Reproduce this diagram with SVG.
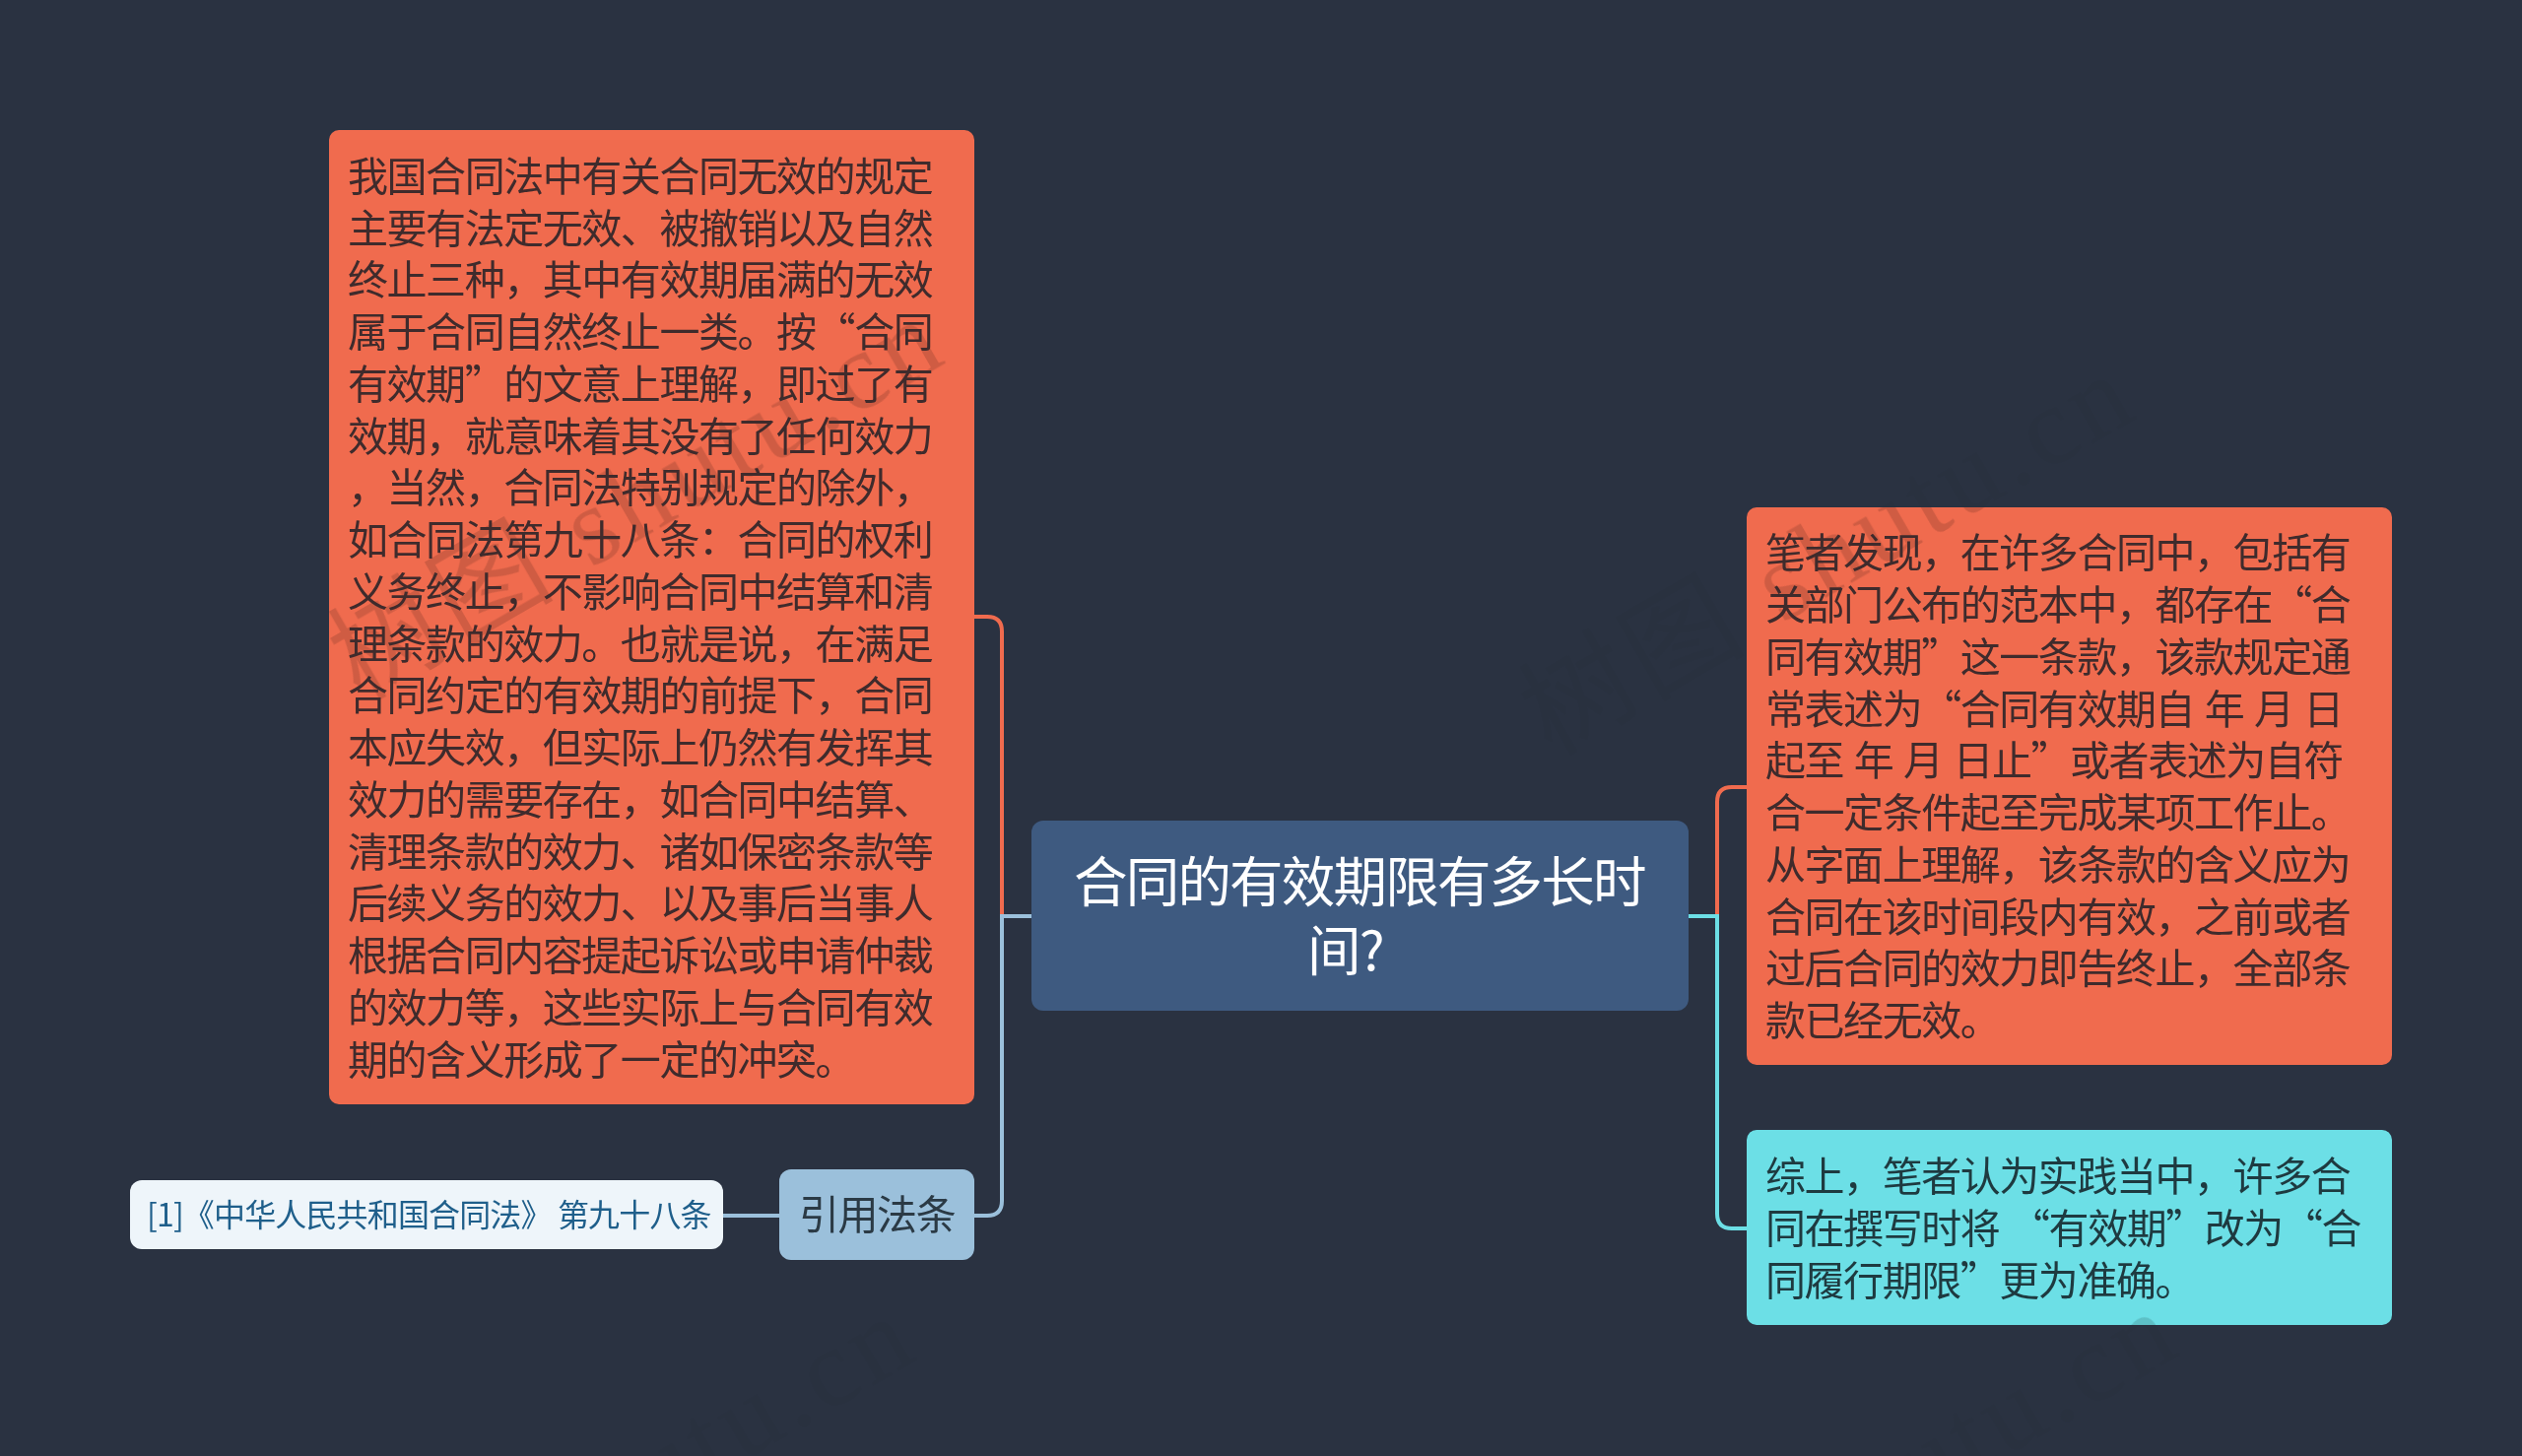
<svg xmlns="http://www.w3.org/2000/svg" width="2560" height="1478" viewBox="0 0 2560 1478">
<defs>
<clipPath id="boxes"><rect x="334" y="132" width="655" height="989" rx="10"/><rect x="1773" y="515" width="655" height="566" rx="10"/><rect x="1773" y="1147" width="655" height="198" rx="10"/></clipPath>
<g id="wmg">
<text class="wm" transform="translate(967 365) rotate(-30)">树图 shutu.cn</text>
<text class="wm" transform="translate(2176 421) rotate(-30)">树图 shutu.cn</text>
<text class="wm" transform="translate(938 1377) rotate(-30)">树图 shutu.cn</text>
<text class="wm" transform="translate(2220 1372) rotate(-30)">树图 shutu.cn</text>
</g>
</defs>
<style>
text{font-family:"Noto Sans CJK SC","Noto Sans",sans-serif}
.c{fill:none;stroke-width:4}
.o{fill:#f06b4e}
.t{font-size:41px;letter-spacing:-1.45px;word-spacing:3px;fill:#3f2b2c}
.wm{font-family:"Liberation Serif","Noto Sans CJK SC",serif;font-size:112px;letter-spacing:6px;fill:#000;text-anchor:end}
</style>
<rect width="2560" height="1478" fill="#2a3241"/>
<use href="#wmg" opacity=".02"/>
<g id="connectors">
<path class="c" stroke="#f06b4e" d="M989 626H1002Q1017 626 1017 641V930"/>
<path class="c" stroke="#9bc0db" d="M1047 930H1017V1219Q1017 1234 1002 1234H989"/>
<path class="c" stroke="#9bc0db" d="M791 1234H734"/>
<path class="c" stroke="#f06b4e" d="M1773 799H1758Q1743 799 1743 814V930"/>
<path class="c" stroke="#6cdfe6" d="M1714 930H1743V1232Q1743 1247 1758 1247H1773"/>
</g>
<g id="n1">
<rect class="o" x="334" y="132" width="655" height="989" rx="10"/>
</g>
<g id="n2">
<rect class="o" x="1773" y="515" width="655" height="566" rx="10"/>
</g>
<g id="n3">
<rect x="1773" y="1147" width="655" height="198" rx="10" fill="#6cdfe6"/>
</g>
<g clip-path="url(#boxes)"><use href="#wmg" opacity=".14"/></g>
<g id="n1-text" transform="translate(0 1.5)">
<text class="t"><tspan x="353" y="192">我国合同法中有关合同无效的规定</tspan><tspan x="353" y="245">主要有法定无效、被撤销以及自然</tspan><tspan x="353" y="297">终止三种，其中有效期届满的无效</tspan><tspan x="353" y="350">属于合同自然终止一类。按“合同</tspan><tspan x="353" y="403">有效期”的文意上理解，即过了有</tspan><tspan x="353" y="456">效期，就意味着其没有了任何效力</tspan><tspan x="353" y="508">，当然，合同法特别规定的除外，</tspan><tspan x="353" y="561">如合同法第九十八条：合同的权利</tspan><tspan x="353" y="614">义务终止，不影响合同中结算和清</tspan><tspan x="353" y="667">理条款的效力。也就是说，在满足</tspan><tspan x="353" y="719">合同约定的有效期的前提下，合同</tspan><tspan x="353" y="772">本应失效，但实际上仍然有发挥其</tspan><tspan x="353" y="825">效力的需要存在，如合同中结算、</tspan><tspan x="353" y="878">清理条款的效力、诸如保密条款等</tspan><tspan x="353" y="930">后续义务的效力、以及事后当事人</tspan><tspan x="353" y="983">根据合同内容提起诉讼或申请仲裁</tspan><tspan x="353" y="1036">的效力等，这些实际上与合同有效</tspan><tspan x="353" y="1089">期的含义形成了一定的冲突。</tspan></text>
</g>
<g id="root">
<rect x="1047" y="833" width="667" height="193" rx="12" fill="#3e5a80"/>
<text font-size="54.500" letter-spacing="-1.8" fill="#fff"><tspan x="1090" y="915">合同的有效期限有多长时</tspan><tspan x="1327" y="985">间?</tspan></text>
</g>
<g id="n2-text" transform="translate(0 1.5)">
<text class="t"><tspan x="1792" y="574">笔者发现，在许多合同中，包括有</tspan><tspan x="1792" y="627">关部门公布的范本中，都存在“合</tspan><tspan x="1792" y="680">同有效期”这一条款，该款规定通</tspan><tspan x="1792" y="733">常表述为“合同有效期自 年 月 日</tspan><tspan x="1792" y="785">起至 年 月 日止”或者表述为自符</tspan><tspan x="1792" y="838">合一定条件起至完成某项工作止。</tspan><tspan x="1792" y="891">从字面上理解，该条款的含义应为</tspan><tspan x="1792" y="944">合同在该时间段内有效，之前或者</tspan><tspan x="1792" y="996">过后合同的效力即告终止，全部条</tspan><tspan x="1792" y="1049">款已经无效。</tspan></text>
</g>
<g id="n3-text" transform="translate(0 1)">
<text class="t" style="fill:#1e3a40"><tspan x="1792" y="1208">综上，笔者认为实践当中，许多合</tspan><tspan x="1792" y="1261">同在撰写时将 “有效期”改为“合</tspan><tspan x="1792" y="1314">同履行期限”更为准确。</tspan></text>
</g>
<g id="n4">
<rect x="791" y="1187" width="198" height="92" rx="12" fill="#9bc0db"/>
<text class="t" style="fill:#2b3a45" x="811" y="1248">引用法条</text>
</g>
<g id="n5">
<rect x="132" y="1198" width="602" height="70" rx="12" fill="#eef5fa"/>
<text font-size="32" letter-spacing="-.85" fill="#1f5f8b" x="149" y="1245">[1]《中华人民共和国合同法》 第九十八条</text>
</g>
</svg>
